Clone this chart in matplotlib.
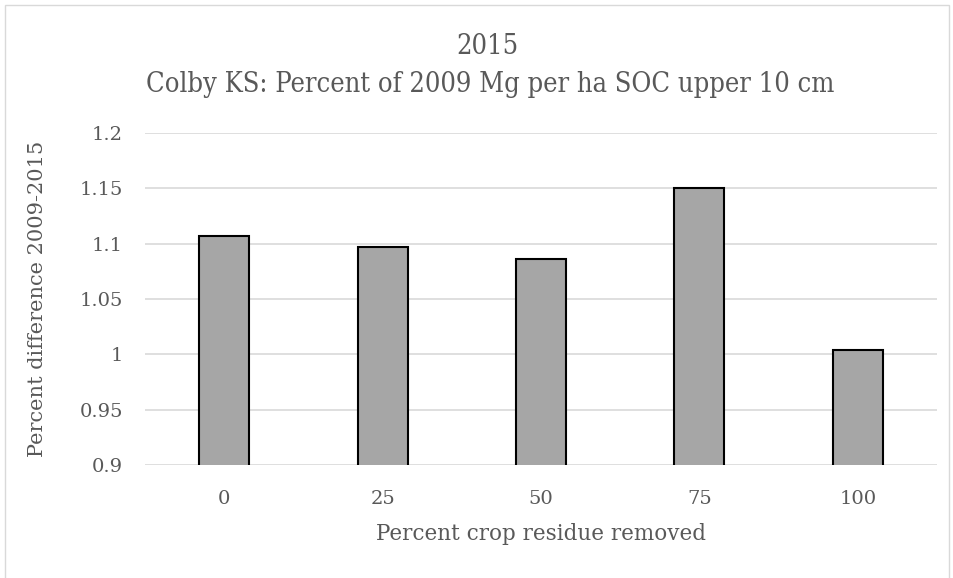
import matplotlib
matplotlib.use("Agg")
import matplotlib.pyplot as plt
from matplotlib.patches import Rectangle

categories = ["0", "25", "50", "75", "100"]
values = [1.107, 1.097, 1.086, 1.150, 1.0035]
yticks = [0.9, 0.95, 1.0, 1.05, 1.1, 1.15, 1.2]
ytick_labels = ["0.9", "0.95", "1", "1.05", "1.1", "1.15", "1.2"]

title_top = "2015"
title_sub = "Colby KS: Percent of 2009 Mg per ha SOC upper 10 cm"
xlabel = "Percent crop residue removed"
ylabel = "Percent difference 2009-2015"

text_color = "#595959"
plt.rcParams["font.family"] = ["DejaVu Serif"]

W, H = 954, 578
fig = plt.figure(figsize=(W / 100, H / 100), dpi=100)
fig.patches.append(Rectangle((5 / W, -0.01), (W - 10) / W, 1 - 5 / H + 0.01,
                             transform=fig.transFigure, fill=False,
                             edgecolor="#d9d9d9", linewidth=1.0))

ax = fig.add_axes([145 / W, 1 - 465 / H, (937 - 145) / W, (465 - 133) / H])
x = list(range(len(categories)))
ax.bar(x, values, width=0.315, color="#a6a6a6", edgecolor="black",
       linewidth=1.5, zorder=3)
ax.set_xlim(-0.5, len(categories) - 0.5)
ax.set_ylim(0.9, 1.2)
ax.set_yticks(yticks)
ax.set_yticklabels(ytick_labels)
ax.set_xticks(x)
ax.set_xticklabels(categories)
ax.yaxis.grid(True, color="#d9d9d9", linewidth=1.2, zorder=0)
for s in ax.spines.values():
    s.set_visible(False)
ax.tick_params(axis="both", length=0, labelsize=14, labelcolor=text_color)
ax.tick_params(axis="y", pad=16)
ax.tick_params(axis="x", pad=18)

fig.text(487 / W, 1 - 46 / H, title_top, ha="center", va="center",
         fontsize=19.5, color=text_color, fontstretch="condensed")
fig.text(490 / W, 1 - 84 / H, title_sub, ha="center", va="center",
         fontsize=19.5, color=text_color, fontstretch="condensed")
ax.set_xlabel(xlabel, fontsize=15.5, color=text_color, labelpad=11)
ax.set_ylabel(ylabel, fontsize=15, color=text_color, labelpad=23)

fig.savefig("out.png", dpi=100)
